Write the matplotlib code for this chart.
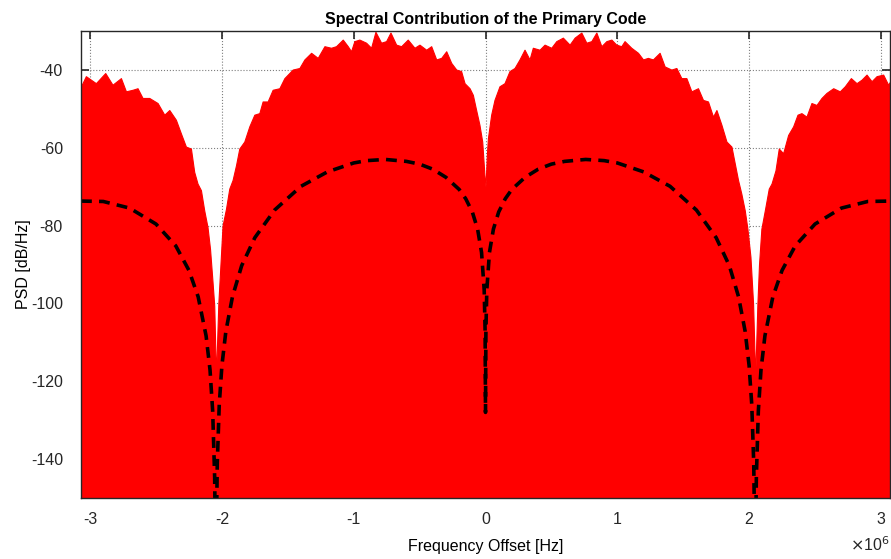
import numpy as np
import matplotlib
matplotlib.use("Agg")
import matplotlib.pyplot as plt

plt.rcParams['font.family'] = ['Liberation Sans', 'DejaVu Sans']
plt.rcParams['axes.unicode_minus'] = False

# frequency offsets in MHz (axis shows x 10^6 Hz)
# red spectrum: upper edge of the dense line spectrum
red_f = [-3.069, -3.032, -2.994, -2.956, -2.885, -2.830, -2.766, -2.728, -2.678, -2.640,
         -2.602, -2.551, -2.488, -2.437, -2.399, -2.349, -2.311, -2.273, -2.235, -2.210,
         -2.185, -2.159, -2.134, -2.109, -2.090, -2.071, -2.058, -2.045, -2.027, -1.995,
         -1.969, -1.944, -1.919, -1.893, -1.868, -1.830, -1.792, -1.754, -1.716, -1.691,
         -1.653, -1.615, -1.564, -1.526, -1.463, -1.412, -1.374, -1.323, -1.273, -1.222,
         -1.172, -1.134, -1.083, -1.045, -1.020, -0.995, -0.957, -0.906, -0.868, -0.835,
         -0.792, -0.754, -0.721, -0.678, -0.640, -0.590, -0.539, -0.501, -0.450, -0.412,
         -0.374, -0.336, -0.298, -0.260, -0.222, -0.185, -0.159, -0.121, -0.096, -0.071,
         -0.046, -0.025, -0.008, 0.000, 0.010, 0.018, 0.043, 0.068, 0.106, 0.144,
         0.182, 0.220, 0.258, 0.296, 0.334, 0.359, 0.410, 0.448, 0.499, 0.537,
         0.587, 0.638, 0.676, 0.727, 0.765, 0.803, 0.841, 0.879, 0.917, 0.955,
         0.992, 1.030, 1.055, 1.106, 1.157, 1.195, 1.232, 1.270, 1.321, 1.359,
         1.410, 1.448, 1.486, 1.524, 1.562, 1.612, 1.650, 1.688, 1.726, 1.752,
         1.790, 1.828, 1.866, 1.891, 1.916, 1.941, 1.967, 1.987, 2.010, 2.030,
         2.046, 2.063, 2.075, 2.093, 2.119, 2.149, 2.170, 2.200, 2.225, 2.258,
         2.296, 2.334, 2.367, 2.397, 2.435, 2.473, 2.511, 2.549, 2.587, 2.638,
         2.688, 2.726, 2.772, 2.815, 2.853, 2.891, 2.929, 2.967, 3.017, 3.055, 3.069]
red_db = [-44.2, -41.6, -42.5, -43.4, -40.8, -43.8, -42.1, -45.5, -45.1, -44.7,
          -47.2, -47.2, -48.5, -51.5, -50.3, -52.8, -56.3, -59.7, -60.2, -66.2,
          -69.2, -70.9, -76.1, -80.4, -86.0, -94.5, -100.6, -119.0, -100.0, -80.0,
          -75.7, -70.5, -68.3, -64.5, -60.2, -58.4, -54.5, -51.5, -51.1, -48.1,
          -48.1, -45.1, -44.7, -42.1, -39.9, -39.5, -37.3, -35.6, -36.9, -33.9,
          -34.3, -33.9, -32.2, -33.9, -35.2, -32.6, -32.2, -33.0, -34.3, -30.2,
          -33.0, -32.6, -30.4, -33.5, -33.9, -32.2, -34.3, -33.5, -34.8, -33.9,
          -37.3, -36.9, -35.2, -38.2, -39.9, -40.3, -43.4, -44.7, -46.4, -50.3,
          -54.1, -58.4, -67.0, -70.0, -62.0, -57.6, -51.5, -47.7, -44.2, -43.4,
          -40.3, -39.5, -37.3, -34.8, -37.3, -34.3, -34.8, -33.5, -34.3, -32.6,
          -31.7, -33.5, -31.7, -30.4, -33.0, -32.6, -30.4, -33.9, -32.6, -32.2,
          -33.5, -33.9, -32.6, -34.3, -35.6, -37.3, -36.9, -37.3, -35.6, -39.1,
          -39.9, -39.5, -42.1, -42.1, -45.5, -44.7, -47.7, -48.1, -52.0, -50.3,
          -54.1, -58.4, -59.7, -64.0, -68.3, -71.8, -76.1, -80.8, -88.0, -100.0,
          -119.0, -100.0, -90.0, -80.8, -76.1, -70.5, -69.2, -65.8, -60.2, -61.4,
          -56.7, -54.5, -51.5, -51.1, -52.0, -48.5, -49.0, -47.2, -45.9, -44.7,
          -45.5, -44.2, -42.1, -43.4, -42.5, -41.2, -42.9, -41.6, -41.2, -43.8, -43.0]

# dashed theoretical curve (positive half, mirrored - curve is symmetric)
dash_f_pos = [0.0, 0.003, 0.01, 0.03, 0.06, 0.1, 0.15, 0.2, 0.3, 0.4, 0.5, 0.6, 0.76,
              0.9, 1.0, 1.2, 1.4, 1.6, 1.75, 1.85, 1.92, 1.97, 2.0, 2.02, 2.035, 2.046,
              2.055, 2.07, 2.09, 2.12, 2.18, 2.25, 2.35, 2.5, 2.7, 2.9, 3.069]
dash_db_pos = [-128.0, -107.0, -96.5, -86.9, -80.9, -76.5, -73.1, -70.7, -67.6, -65.5,
               -64.2, -63.5, -63.0, -63.3, -63.9, -66.2, -69.9, -76.0, -83.1, -90.3,
               -98.3, -107.2, -116.0, -126.0, -141.0, -170.0, -144.5, -127.6, -117.1,
               -108.3, -98.3, -91.5, -85.2, -79.6, -75.5, -73.8, -73.7]

xticks = [-3, -2, -1, 0, 1, 2, 3]
yticks = [-140, -120, -100, -80, -60, -40]

dash_f = np.concatenate([-np.array(dash_f_pos[:0:-1]), dash_f_pos])
dash_db = np.concatenate([dash_db_pos[:0:-1], dash_db_pos])

fig = plt.figure(figsize=(8.91, 5.59), dpi=100)
ax = fig.add_axes([0.0909, 0.1091, 0.9080, 0.8354])

ax.fill_between(red_f, red_db, -150, color='#ff0000', linewidth=0.8, edgecolor='#ff0000', zorder=2)
ax.plot(dash_f, dash_db, color='black', linewidth=2.6, dashes=(3.0, 2.0), zorder=3)

ax.set_xlim(-3.069, 3.069)
ax.set_ylim(-150, -30)
ax.set_xticks(xticks)
ax.set_xticklabels([str(t) for t in xticks])
ax.set_yticks(yticks)
ax.set_yticklabels([str(t) for t in yticks])

ax.grid(True, color='#7f7f7f', linestyle=':', linewidth=0.8, zorder=0)
ax.set_axisbelow(True)
ax.tick_params(direction='in', length=6, width=1.2, top=True, right=True,
               labelsize=11.5, colors='#262626')
ax.tick_params(axis='x', pad=10)
ax.tick_params(axis='y', pad=13)
for s in ax.spines.values():
    s.set_color('#262626')
    s.set_linewidth(1.0)
    s.set_zorder(4)

ax.set_title('Spectral Contribution of the Primary Code', fontsize=11.5, fontweight='bold', pad=5)
ax.set_xlabel('Frequency Offset [Hz]', fontsize=11.5, labelpad=9)
ax.set_ylabel('PSD [dB/Hz]', fontsize=11.5, labelpad=0)
ax.text(1.0, -0.08, r'$\times$10$^{6}$', transform=ax.transAxes, ha='right', va='top',
        fontsize=11.5, color='#262626')

fig.savefig('out.png', dpi=100)
